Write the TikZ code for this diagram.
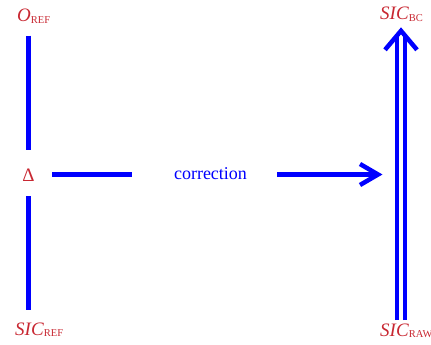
\documentclass[tikz,border=0pt]{standalone}
\usepackage{fontspec}
\setmainfont{Liberation Serif}
\definecolor{lblred}{RGB}{200,40,50}
\definecolor{arrblue}{RGB}{0,0,255}
\newcommand\lblsub[2]{\textit{#1}\raisebox{-1.5pt}{\fontsize{10.5}{10.5}\selectfont #2}}
\tikzset{
  lbl/.style={inner sep=0pt, text=lblred, font=\fontsize{19}{19}\selectfont},
  vline/.style={draw=arrblue, line width=4.8pt},
  hline/.style={draw=arrblue, line width=4.2pt},
  dline/.style={draw=arrblue, line width=3.8pt},
  chev/.style={draw=arrblue, line width=4.5pt, line join=miter},
}
\begin{document}
\begin{tikzpicture}[x=1pt,y=-1pt]
\useasboundingbox (0,0) rectangle (431,345);
% labels
\node[lbl, anchor=base west] (O) at (17,22) {\lblsub{O}{REF}};
\node[lbl, anchor=base] (D) at (28.5,181) {Δ};
\node[lbl, anchor=base west] (SR) at (15,335) {\lblsub{SIC}{REF}};
\node[lbl, anchor=base west] (BC) at (380,20) {\lblsub{SIC}{BC}};
\node[lbl, anchor=base west] (RAW) at (380,336) {\lblsub{SIC}{RAW}};
\node[inner sep=0pt, text=arrblue, font=\fontsize{18}{18}\selectfont] (C) at (210.5,174) {correction};
% column of the double arrow
\coordinate (AX) at (401,0);
\coordinate (T) at (378,174.5);
% left vertical lines
\draw[vline, shorten <=12pt, shorten >=18pt] (D.north |- O.south) -- (D.north);
\draw[vline, shorten <=15pt, shorten >=12pt] (D.south) -- (D.south |- SR.north);
% horizontal correction arrow
\draw[hline, shorten <=17.5pt, shorten >=42pt] (D.east |- T) -- (C.west |- T);
\draw[hline, shorten <=30pt] (C.east |- T) -- (T);
\draw[chev] ([shift={(-18,-10.5)}]T) -- (T) -- ([shift={(-18,10.5)}]T);
% double arrow
\draw[dline, shorten <=3pt, shorten >=14pt] ([xshift=-4pt]AX |- RAW.north) -- ([xshift=-4pt]AX |- BC.south);
\draw[dline, shorten <=3pt, shorten >=14pt] ([xshift=4pt]AX |- RAW.north) -- ([xshift=4pt]AX |- BC.south);
\coordinate (H) at ([shift={(0,9)}]AX |- BC.south);
\draw[chev] ([shift={(-16,19)}]H) -- (H) -- ([shift={(16,19)}]H);
\end{tikzpicture}
\end{document}
